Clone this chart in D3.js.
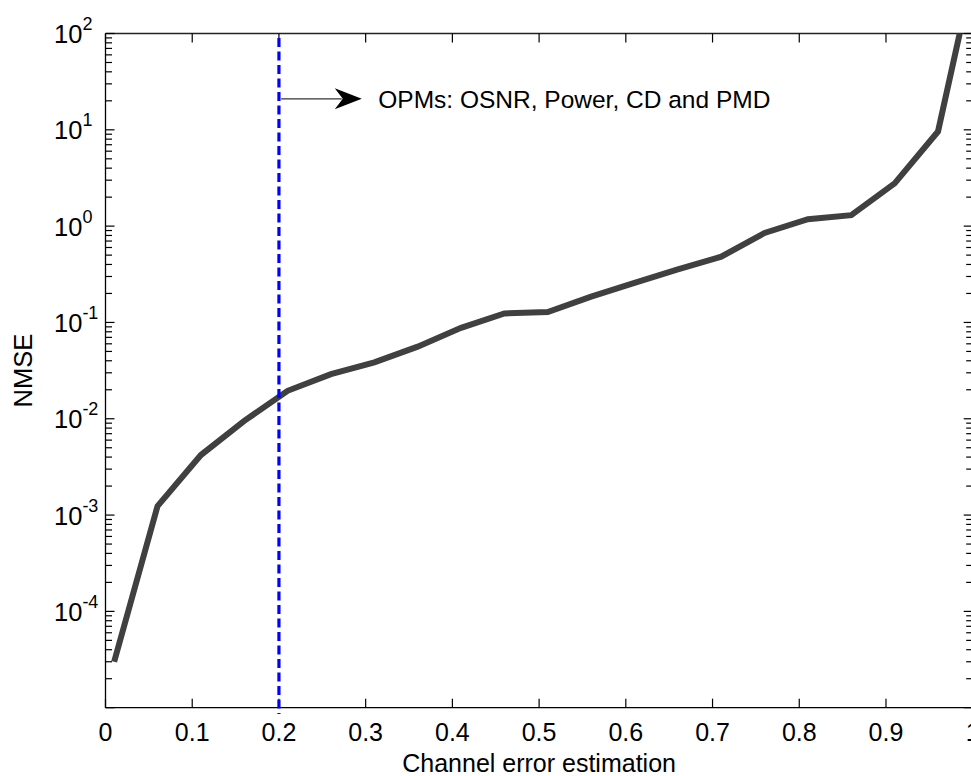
<!DOCTYPE html>
<html><head><meta charset="utf-8">
<script src="https://cdn.jsdelivr.net/npm/d3@7"></script>
<style>
html,body{margin:0;padding:0;background:#fff;overflow:hidden}
text{font-family:"Liberation Sans",Arial,sans-serif;fill:#000}
</style></head>
<body>
<svg id="chart" width="971" height="776"></svg>
<script>
// ---- data ----
const xValues = [0.01,0.06,0.11,0.16,0.21,0.26,0.31,0.36,0.41,0.46,0.51,0.56,0.61,0.66,0.71,0.76,0.81,0.86,0.91,0.96,0.985];
const nmseValues = [3.0e-5,1.24e-3,4.2e-3,9.5e-3,1.95e-2,2.9e-2,3.85e-2,5.6e-2,8.8e-2,0.124,0.128,0.185,0.258,0.356,0.481,0.85,1.18,1.30,2.78,9.6,100];
const xTicks = [0,0.1,0.2,0.3,0.4,0.5,0.6,0.7,0.8,0.9,1];
const xTickLabels = ["0","0.1","0.2","0.3","0.4","0.5","0.6","0.7","0.8","0.9","1"];
const yDecadeExps = [-4,-3,-2,-1,0,1,2];
const markerX = 0.2;
const markerYRange = [90, 8.6e-6];
const arrowX = [0.2025, 0.2955];
const arrowY = 21;
const annotationText = "OPMs: OSNR, Power, CD and PMD";
const annotationX = 0.3145;
const xLabel = "Channel error estimation";
const yLabel = "NMSE";

// ---- layout ----
const L = 105.5, R = 972.7, T = 33.5, B = 707.7;
const svg = d3.select("#chart");
const x = d3.scaleLinear().domain([0,1]).range([L,R]);
const y = d3.scaleLog().domain([1e-5,1e2]).range([B,T]);

svg.append("defs").append("clipPath").attr("id","clip")
  .append("rect").attr("x",L).attr("y",T).attr("width",R-L).attr("height",B-T);

// axes frame
svg.append("line").attr("x1",L).attr("x2",R).attr("y1",B).attr("y2",B).attr("stroke","#000").attr("stroke-width",1.3);
svg.append("line").attr("x1",L).attr("x2",R).attr("y1",T).attr("y2",T).attr("stroke","#222").attr("stroke-width",1.3);
svg.append("line").attr("x1",L).attr("x2",L).attr("y1",T).attr("y2",B).attr("stroke","#000").attr("stroke-width",1.3);
svg.append("line").attr("x1",R).attr("x2",R).attr("y1",T).attr("y2",B).attr("stroke","#000").attr("stroke-width",1.3);

// x ticks (bottom & top, inward)
const tickG = svg.append("g").attr("stroke","#000").attr("stroke-width",1.2);
xTicks.forEach(v=>{
  tickG.append("line").attr("x1",x(v)).attr("x2",x(v)).attr("y1",B).attr("y2",B-9);
  tickG.append("line").attr("x1",x(v)).attr("x2",x(v)).attr("y1",T).attr("y2",T+9);
});
svg.append("g").selectAll("text").data(xTicks).join("text")
  .attr("x",d=>x(d)).attr("y",B+33).attr("text-anchor","middle")
  .attr("font-size",25).text((d,i)=>xTickLabels[i]);

// y ticks (log major + minor, left & right, inward)
const yTickVals = [];
for (let e=-5; e<2; e++) for (let m=1; m<10; m++) yTickVals.push({v:m*Math.pow(10,e), major:m===1});
yTickVals.push({v:100, major:true});
yTickVals.forEach(t=>{
  const len = t.major ? 9 : 6.5;
  tickG.append("line").attr("x1",L).attr("x2",L+len).attr("y1",y(t.v)).attr("y2",y(t.v));
  tickG.append("line").attr("x1",R).attr("x2",R-len).attr("y1",y(t.v)).attr("y2",y(t.v));
});
const yl = svg.append("g");
yDecadeExps.forEach(e=>{
  const t = yl.append("text").attr("x",54).attr("y",y(Math.pow(10,e))+9.5).attr("font-size",25.5);
  t.append("tspan").text("10");
  t.append("tspan").attr("font-size",18).attr("dy",-13).text(String(e));
});

// axis labels
svg.append("text").attr("x",(L+R)/2).attr("y",772).attr("text-anchor","middle").attr("font-size",25).text(xLabel);
svg.append("text").attr("transform",`translate(32,${(T+B)/2}) rotate(-90)`).attr("text-anchor","middle").attr("font-size",25.5).text(yLabel);

// data line
const line = d3.line().x((d,i)=>x(xValues[i])).y(d=>y(d));
svg.append("path").datum(nmseValues).attr("d",line)
  .attr("fill","none").attr("stroke","#404040").attr("stroke-width",6)
  .attr("stroke-linejoin","miter").attr("clip-path","url(#clip)");

// vertical dashed marker
svg.append("line").attr("x1",x(markerX)).attr("x2",x(markerX))
  .attr("y1",y(markerYRange[0])).attr("y2",y(markerYRange[1]))
  .attr("stroke","#0000ff").attr("stroke-width",3.2).attr("stroke-dasharray","9,4.5");

// annotation arrow
const ay = y(arrowY), ax0 = x(arrowX[0]), ax1 = x(arrowX[1]);
svg.append("line").attr("x1",ax0).attr("x2",ax1-20).attr("y1",ay).attr("y2",ay).attr("stroke","#333").attr("stroke-width",1.2);
svg.append("path").attr("d",`M${ax1},${ay} L${ax1-27},${ay-10.5} L${ax1-19},${ay} L${ax1-27},${ay+10.5} Z`).attr("fill","#000");
svg.append("text").attr("x",x(annotationX)).attr("y",ay+9).attr("font-size",24.5).text(annotationText);
</script>
</body></html>
